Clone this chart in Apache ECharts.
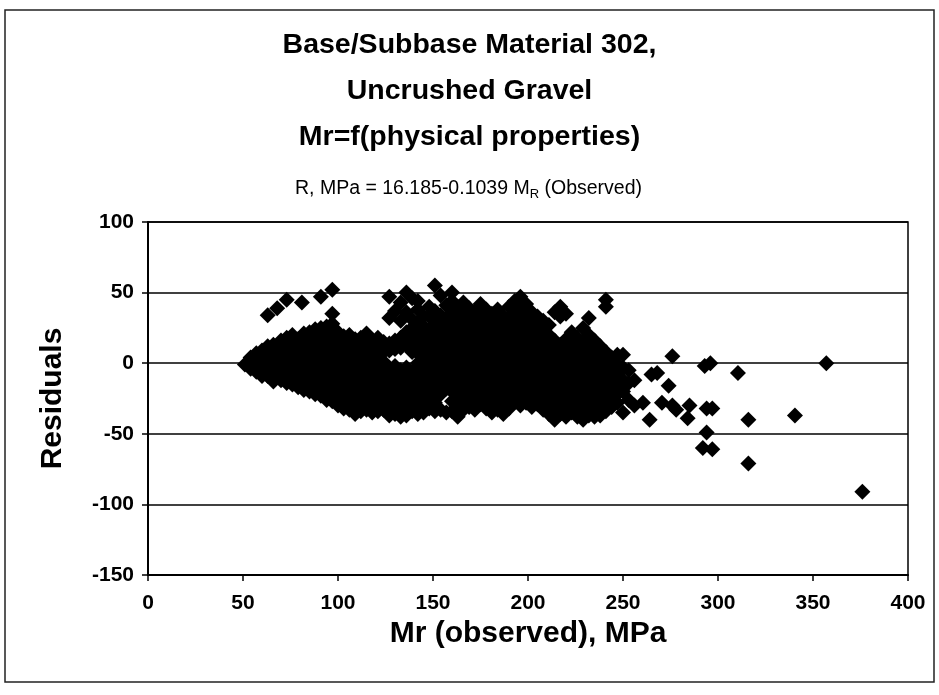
<!DOCTYPE html>
<html>
<head>
<meta charset="utf-8">
<script src="https://cdn.jsdelivr.net/npm/echarts@6/dist/echarts.min.js"></script>
<style>
html,body{margin:0;padding:0;background:#fff;}
#chart{width:939px;height:695px;}
</style>
</head>
<body>
<div id="chart"></div>
<script>
// ---- Data (Mr observed [MPa], residual) ----
const titleLines = ['Base/Subbase Material 302,', 'Uncrushed Gravel', 'Mr=f(physical properties)'];
const xTicks = [0, 50, 100, 150, 200, 250, 300, 350, 400];
const yTicks = [-150, -100, -50, 0, 50, 100];

const groupLow = [
 [51,-1],[54,4],[54,-4],[57,7],[57,0],[57,-6],[60,9],[60,2],[60,-5],[60,-9],
 [63,34],[63,12],[63,5],[63,-2],[63,-9],[66,13],[66,6],[66,-1],[66,-8],[66,-13],
 [68,39],[70,16],[70,9],[70,2],[70,-5],[70,-12],
 [73,45],[73,18],[73,11],[73,4],[73,-3],[73,-10],[73,-14],
 [76,20],[76,13],[76,6],[76,-1],[76,-8],[76,-15],
 [79,17],[79,10],[79,3],[79,-4],[79,-11],[79,-17],[81,43],
 [82,21],[82,14],[82,7],[82,0],[82,-7],[82,-14],[82,-19],
 [85,22],[85,15],[85,8],[85,1],[85,-6],[85,-13],[85,-20],
 [88,24],[88,18],[88,11],[88,4],[88,-3],[88,-10],[88,-17],[88,-22],
 [91,47],[91,25],[91,19],[91,12],[91,5],[91,-2],[91,-9],[91,-16],[91,-23],
 [94,26],[94,20],[94,13],[94,6],[94,-1],[94,-8],[94,-15],[94,-22],[94,-26],
 [97,52],[97,35],[97,28],[97,21],[97,14],[97,7],[97,0],[97,-7],[97,-14],[97,-21],[97,-27],
 [100,22],[100,16],[100,9],[100,2],[100,-5],[100,-12],[100,-19],[100,-26],[100,-30]
];
const groupMid = [
 [103,19],[103,12],[103,5],[103,-2],[103,-9],[103,-16],[103,-23],[103,-29],[103,-32],
 [106,20],[106,13],[106,6],[106,-1],[106,-8],[106,-15],[106,-22],[106,-28],[106,-33],
 [109,17],[109,10],[109,3],[109,-4],[109,-11],[109,-18],[109,-25],[109,-31],[109,-36],
 [112,18],[112,11],[112,4],[112,-3],[112,-10],[112,-17],[112,-24],[112,-30],[112,-34],
 [115,21],[115,14],[115,7],[115,0],[115,-7],[115,-14],[115,-21],[115,-28],[115,-33],
 [118,16],[118,9],[118,2],[118,-5],[118,-12],[118,-19],[118,-26],[118,-32],[118,-35],
 [121,18],[121,11],[121,4],[121,-3],[121,-10],[121,-17],[121,-24],[121,-30],[121,-34],
 [124,15],[124,8],[124,1],[124,-6],[124,-13],[124,-20],[124,-27],[124,-33],
 [127,47],[127,32],[127,14],[127,9],[127,-4],[127,-11],[127,-18],[127,-25],[127,-31],[127,-37],
 [130,37],[130,16],[130,10],[130,-2],[130,-9],[130,-16],[130,-23],[130,-30],[130,-36],
 [133,43],[133,30],[133,18],[133,11],[133,-5],[133,-12],[133,-19],[133,-26],[133,-33],[133,-38],
 [136,50],[136,36],[136,22],[136,13],[136,-3],[136,-10],[136,-17],[136,-24],[136,-31],[136,-37],
 [139,46],[139,31],[139,25],[139,17],[139,8],[139,-6],[139,-13],[139,-20],[139,-27],[139,-34],
 [142,44],[142,38],[142,28],[142,21],[142,14],[142,7],[142,0],[142,-8],[142,-15],[142,-22],[142,-29],[142,-36],
 [145,33],[145,26],[145,19],[145,12],[145,5],[145,-2],[145,-9],[145,-16],[145,-23],[145,-30],[145,-35],
 [148,40],[148,33],[148,24],[148,17],[148,10],[148,3],[148,-4],[148,-11],[148,-18],[148,-25],[148,-32],
 [151,55],[151,37],[151,30],[151,22],[151,15],[151,8],[151,1],[151,-6],[151,-13],[151,-20],[151,-28],[151,-34]
];
const groupHigh = [
 [154,48],[154,34],[154,27],[154,20],[154,13],[154,6],[154,-1],[154,-8],[154,-15],[154,-22],[154,-33],
 [157,41],[157,31],[157,24],[157,17],[157,10],[157,3],[157,-4],[157,-11],[157,-18],[157,-35],
 [160,50],[160,44],[160,36],[160,29],[160,22],[160,15],[160,8],[160,1],[160,-6],[160,-13],[160,-20],[160,-27],[160,-34],
 [163,40],[163,33],[163,26],[163,19],[163,12],[163,5],[163,-2],[163,-9],[163,-16],[163,-23],[163,-30],[163,-38],
 [166,43],[166,37],[166,30],[166,23],[166,16],[166,9],[166,2],[166,-5],[166,-12],[166,-19],[166,-26],[166,-33],
 [169,39],[169,32],[169,25],[169,18],[169,11],[169,4],[169,-3],[169,-10],[169,-17],[169,-24],[169,-31],
 [172,36],[172,29],[172,22],[172,15],[172,8],[172,1],[172,-6],[172,-13],[172,-20],[172,-27],[172,-33],
 [175,42],[175,34],[175,27],[175,20],[175,13],[175,6],[175,-1],[175,-8],[175,-15],[175,-22],[175,-29],
 [178,38],[178,31],[178,24],[178,17],[178,10],[178,3],[178,-4],[178,-11],[178,-18],[178,-25],[178,-32],
 [181,35],[181,28],[181,21],[181,14],[181,7],[181,0],[181,-7],[181,-14],[181,-21],[181,-28],[181,-35],
 [184,38],[184,30],[184,23],[184,16],[184,9],[184,2],[184,-5],[184,-12],[184,-19],[184,-26],[184,-33],
 [187,33],[187,26],[187,19],[187,12],[187,5],[187,-2],[187,-9],[187,-16],[187,-23],[187,-30],[187,-36],
 [190,40],[190,32],[190,25],[190,18],[190,11],[190,4],[190,-3],[190,-10],[190,-17],[190,-24],[190,-32],
 [193,44],[193,36],[193,29],[193,22],[193,15],[193,8],[193,1],[193,-6],[193,-13],[193,-20],[193,-27],
 [196,47],[196,39],[196,31],[196,24],[196,17],[196,10],[196,3],[196,-4],[196,-11],[196,-18],[196,-25],[196,-30],
 [199,42],[199,34],[199,27],[199,20],[199,13],[199,6],[199,-1],[199,-8],[199,-15],[199,-22],[199,-28]
];
const groupUpper = [
 [202,36],[202,29],[202,22],[202,15],[202,8],[202,1],[202,-6],[202,-13],[202,-20],[202,-27],[202,-31],
 [205,33],[205,26],[205,19],[205,12],[205,5],[205,-2],[205,-9],[205,-16],[205,-23],[205,-29],
 [208,30],[208,23],[208,16],[208,9],[208,2],[208,-5],[208,-12],[208,-19],[208,-26],[208,-33],
 [211,27],[211,20],[211,13],[211,6],[211,-1],[211,-8],[211,-15],[211,-22],[211,-29],[211,-36],
 [214,36],[214,16],[214,9],[214,2],[214,-5],[214,-12],[214,-19],[214,-26],[214,-33],[214,-40],
 [217,40],[217,33],[217,13],[217,6],[217,-1],[217,-8],[217,-15],[217,-22],[217,-29],[217,-36],
 [220,35],[220,17],[220,10],[220,3],[220,-4],[220,-11],[220,-18],[220,-25],[220,-32],[220,-38],
 [223,22],[223,14],[223,7],[223,0],[223,-7],[223,-14],[223,-21],[223,-28],[223,-35],
 [226,18],[226,11],[226,4],[226,-3],[226,-10],[226,-17],[226,-24],[226,-31],[226,-38],
 [229,25],[229,15],[229,8],[229,1],[229,-6],[229,-13],[229,-20],[229,-27],[229,-34],[229,-40],
 [232,32],[232,20],[232,12],[232,5],[232,-2],[232,-9],[232,-16],[232,-23],[232,-30],[232,-37],
 [235,16],[235,9],[235,2],[235,-5],[235,-12],[235,-19],[235,-26],[235,-33],[235,-38],
 [238,12],[238,5],[238,-2],[238,-9],[238,-16],[238,-23],[238,-30],[238,-37],
 [241,45],[241,40],[241,8],[241,1],[241,-6],[241,-13],[241,-20],[241,-27],[241,-34],
 [244,4],[244,-3],[244,-10],[244,-17],[244,-24],[244,-31],
 [247,6],[247,-1],[247,-8],[247,-15],[247,-22],[247,-28],
 [250,6],[250,-3],[250,-12],[250,-20],[250,-35],
 [253,-5],[253,-14],[253,-26],[256,-12],[256,-30]
];
const groupTail = [
 [260.5,-28],[264,-40],[265,-8],[268,-7],[270.5,-28],[274,-16],[276,5],[276,-30],[278,-33],
 [284,-39],[285,-30],[293,-2],[296,0],[294,-32],[297,-32],[294,-49],[292,-60],[297,-61],
 [310.5,-7],[316,-40],[316,-71],[340.5,-37],[357,0],[376,-91]
];
const subtitleParts = {lead: 'R, MPa = 16.185-0.1039 M', sub: 'R', tail: ' (Observed)'};

const allPoints = groupLow.concat(groupMid, groupHigh, groupUpper, groupTail);

const chart = echarts.init(document.getElementById('chart'), null, {renderer: 'canvas'});
const FONT = '"Liberation Sans", Arial, sans-serif';

chart.setOption({
  backgroundColor: '#fff',
  animation: false,
  graphic: [
    {type: 'rect', shape: {x: 5, y: 10, width: 929, height: 672}, style: {fill: 'none', stroke: '#222', lineWidth: 1.5}, z: 0},
    {type: 'text', left: 'center', top: 22, style: {text: titleLines.join('\n'), font: 'bold 28.5px ' + FONT, fill: '#000', textAlign: 'center', lineHeight: 46}},
  ],
  title: {
    text: '{a|' + subtitleParts.lead + '}{s|' + subtitleParts.sub + '}{a|' + subtitleParts.tail + '}',
    left: 290, top: 174,
    textStyle: {rich: {
      a: {fontFamily: FONT, fontSize: 19.5, fontWeight: 'normal', color: '#000', verticalAlign: 'bottom'},
      s: {fontFamily: FONT, fontSize: 13, fontWeight: 'normal', color: '#000', verticalAlign: 'bottom', padding: [0,0,-2,0]}
    }}
  },
  grid: {left: 148, right: 31, top: 222, bottom: 120, show: true, borderColor: '#000', borderWidth: 1.5, backgroundColor: 'transparent'},
  xAxis: {
    type: 'value', min: xTicks[0], max: xTicks[xTicks.length-1], interval: 50,
    name: 'Mr (observed), MPa', nameLocation: 'middle', nameGap: 43,
    nameTextStyle: {fontFamily: FONT, fontWeight: 'bold', fontSize: 30, color: '#000'},
    axisLine: {show: true, onZero: false, lineStyle: {color: '#000', width: 2}},
    axisTick: {show: true, inside: false, length: 6, lineStyle: {color: '#000', width: 1.5}},
    axisLabel: {fontFamily: FONT, fontSize: 21, fontWeight: 'bold', color: '#000', margin: 18},
    splitLine: {show: false}
  },
  yAxis: {
    type: 'value', min: yTicks[0], max: yTicks[yTicks.length-1], interval: 50,
    name: 'Residuals', nameLocation: 'middle', nameGap: 80, nameRotate: 90,
    nameTextStyle: {fontFamily: FONT, fontWeight: 'bold', fontSize: 30, color: '#000'},
    axisLine: {show: true, onZero: false, lineStyle: {color: '#000', width: 2}},
    axisTick: {show: true, inside: false, length: 6, lineStyle: {color: '#000', width: 1.5}},
    axisLabel: {fontFamily: FONT, fontSize: 21, fontWeight: 'bold', color: '#000', margin: 14},
    splitLine: {show: true, lineStyle: {color: '#000', width: 1.5}}
  },
  series: [{
    type: 'scatter',
    data: allPoints,
    symbol: 'diamond',
    symbolSize: 16,
    itemStyle: {color: '#000', opacity: 1},
    z: 3
  }]
});
</script>
</body>
</html>
